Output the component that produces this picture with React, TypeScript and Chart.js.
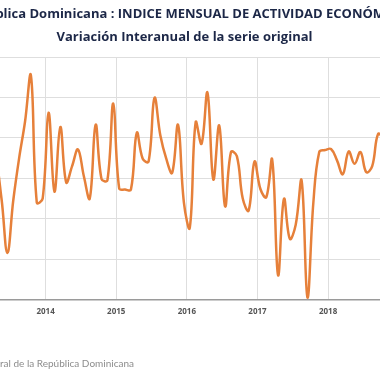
import React, { useEffect, useRef } from "react";
import { Chart, registerables } from "chart.js";

Chart.register(...registerables);

const titleLine1 = "República Dominicana : INDICE MENSUAL DE ACTIVIDAD ECONÓMICA";
const titleLine2 = "Variación Interanual de la serie original";
const sourceText = "Fuente: Banco Central de la República Dominicana";
const firstYear = 2013;

// Monthly year-on-year variation (%), Jan 2013 onward
const values2013 = [2.0, 1.5, 3.0, 6.8, 5.0, 2.3, 4.9, 7.0, 8.8, 11.1, 4.8, 5.0];
const values2014 = [9.25, 5.34, 8.54, 5.8, 6.6, 7.43, 6.1, 5.0, 8.65, 5.97, 5.9, 9.7];
const values2015 = [5.5, 5.44, 5.44, 8.26, 6.97, 6.83, 9.98, 8.12, 6.97, 6.27, 8.65, 4.8];
const values2016 = [3.55, 8.78, 7.71, 10.25, 5.94, 8.62, 4.61, 7.3, 7.1, 5.0, 4.4, 6.83];
const values2017 = [5.47, 5.06, 6.93, 1.2, 4.98, 3.0, 3.7, 5.89, 0.09, 4.8, 7.3, 7.4];
const values2018 = [7.45, 6.9, 6.2, 7.33, 6.72, 7.3, 6.3, 6.6, 8.2, 7.9, 7.4, 7.8];
const values2019 = [6.6, 5.9, 5.3, 4.9, 4.6, 4.2];

const yTicks = [0, 2, 4, 6, 8, 10, 12];

const allValues = [
  ...values2013,
  ...values2014,
  ...values2015,
  ...values2016,
  ...values2017,
  ...values2018,
  ...values2019,
];

export default function App() {
  const ref = useRef<HTMLCanvasElement | null>(null);

  useEffect(() => {
    if (!ref.current) return;
    const points = allValues.map((v, i) => ({ x: i + 0.5, y: v }));
    const footerPlugin = {
      id: "footerSource",
      afterDraw(chart: any) {
        const ctx = chart.ctx;
        ctx.save();
        ctx.font = "10px Lato";
        ctx.fillStyle = "#8c8c8c";
        ctx.textBaseline = "middle";
        ctx.textAlign = "left";
        const lead = ctx.measureText("Fuente: Banco Cent").width;
        ctx.fillText(sourceText, 65 - lead, 364);
        ctx.restore();
      },
    };
    const chart = new Chart(ref.current, {
      type: "line",
      data: {
        datasets: [
          {
            data: points,
            borderColor: "#E6803A",
            borderWidth: 2.5,
            pointRadius: 0,
            tension: 0.4,
            fill: false,
          },
        ],
      },
      options: {
        animation: false,
        responsive: false,
        layout: { padding: { left: 0, right: 1, top: 0, bottom: 55 } },
        plugins: {
          legend: { display: false },
          tooltip: { enabled: false },
          title: {
            display: true,
            text: titleLine1,
            color: "#1c2747",
            font: { family: "Open Sans", size: 13, weight: "bold" },
            padding: { top: 6, bottom: 7 },
          },
          subtitle: {
            display: true,
            text: titleLine2,
            color: "#1c2747",
            font: { family: "Open Sans", size: 13, weight: "bold" },
            padding: { top: 1, bottom: 12 },
          },
        },
        scales: {
          x: {
            type: "linear",
            min: 0,
            max: allValues.length,
            grid: { color: "#dedede", lineWidth: 1, drawTicks: false },
            border: { display: true, color: "#9a9a9a", width: 1.5 },
            ticks: {
              stepSize: 12,
              includeBounds: false,
              autoSkip: false,
              maxRotation: 0,
              padding: 8,
              color: "#555555",
              font: { family: "Open Sans", size: 8, weight: "bold" },
              callback: (v: any) => String(firstYear + Math.round(Number(v) / 12)),
            },
          },
          y: {
            min: yTicks[0],
            max: yTicks[yTicks.length - 1],
            afterFit: (scale: any) => {
              scale.width = 40;
            },
            grid: { color: "#dedede", lineWidth: 1, drawTicks: false },
            border: { display: false },
            ticks: {
              stepSize: 2,
              padding: 6,
              color: "#555555",
              font: { family: "Open Sans", size: 8 },
            },
          },
        },
      },
      plugins: [footerPlugin],
    });
    return () => chart.destroy();
  }, []);

  return (
    <div
      style={{
        position: "fixed",
        left: 0,
        top: 0,
        width: 380,
        height: 380,
        overflow: "hidden",
        background: "#ffffff",
      }}
    >
      <canvas
        ref={ref}
        width={500}
        height={380}
        style={{ position: "absolute", left: -65, top: 0, width: 500, height: 380 }}
      />
    </div>
  );
}
